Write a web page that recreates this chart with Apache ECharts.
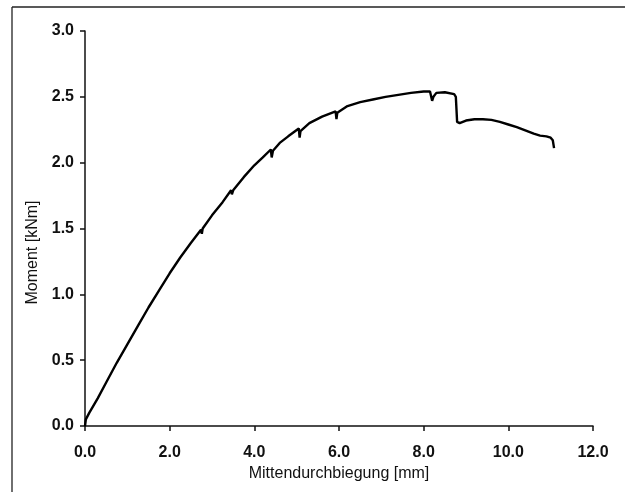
<!DOCTYPE html>
<html>
<head>
<meta charset="utf-8">
<title>Moment – Mittendurchbiegung</title>
<script src="https://cdn.jsdelivr.net/npm/echarts@6/dist/echarts.min.js"></script>
<style>
  html, body { margin: 0; padding: 0; background: #fff; }
  #chart { width: 625px; height: 492px; }
</style>
</head>
<body>
<div id="chart"></div>
<script>
// Mid-span deflection [mm] and bending moment [kNm] of the load test
const deflection = [
  0, 0.02, 0.1, 0.3, 0.5, 0.75, 1.0, 1.25, 1.5, 1.75, 2.0, 2.25, 2.5, 2.74, 2.76, 2.78,
  3.0, 3.25, 3.45, 3.47, 3.5, 3.75, 4.0, 4.2, 4.39, 4.41, 4.44, 4.6, 4.8,
  5.05, 5.07, 5.09, 5.3, 5.6, 5.92, 5.94, 5.96, 6.2, 6.5, 6.8, 7.1, 7.4,
  7.7, 8.0, 8.15, 8.2, 8.23, 8.3, 8.5, 8.72, 8.76, 8.79, 8.85, 9.0, 9.2, 9.4,
  9.6, 9.8, 10.0, 10.2, 10.4, 10.6, 10.75, 10.9, 11.0, 11.05, 11.08
];
const moment = [
  0, 0.05, 0.10, 0.21, 0.33, 0.48, 0.62, 0.76, 0.90, 1.03, 1.16, 1.28, 1.39, 1.49, 1.46, 1.50,
  1.60, 1.70, 1.79, 1.76, 1.79, 1.89, 1.98, 2.04, 2.10, 2.04, 2.09, 2.15, 2.20,
  2.26, 2.19, 2.24, 2.30, 2.35, 2.39, 2.33, 2.38, 2.43, 2.46, 2.48, 2.50, 2.515,
  2.53, 2.54, 2.54, 2.47, 2.50, 2.53, 2.535, 2.52, 2.50, 2.31, 2.30, 2.32, 2.33, 2.33,
  2.325, 2.31, 2.29, 2.27, 2.245, 2.22, 2.205, 2.20, 2.19, 2.17, 2.11
];

const xTicks = { min: 0, max: 12, interval: 2 };
const yTicks = { min: 0, max: 3, interval: 0.5 };
const xName = 'Mittendurchbiegung [mm]';
const yName = 'Moment [kNm]';

const points = deflection.map((d, i) => [d, moment[i]]);

const font = '"Liberation Sans", Arial, sans-serif';
const ink = '#111';

const chart = echarts.init(document.getElementById('chart'), null, { renderer: 'canvas' });
chart.setOption({
  animation: false,
  backgroundColor: '#fff',
  grid: { left: 85, right: 32, top: 31, bottom: 66, containLabel: false },
  graphic: [
    { type: 'line', shape: { x1: 12, y1: 7, x2: 12, y2: 492 }, style: { stroke: '#222', lineWidth: 1.3 } },
    { type: 'line', shape: { x1: 12, y1: 7, x2: 625, y2: 7 }, style: { stroke: '#222', lineWidth: 1.3 } }
  ],
  xAxis: {
    type: 'value',
    min: xTicks.min, max: xTicks.max, interval: xTicks.interval,
    name: xName,
    nameLocation: 'middle',
    nameGap: 38,
    nameTextStyle: { fontFamily: font, fontSize: 16, color: ink },
    axisLine: { show: true, onZero: false, lineStyle: { color: ink, width: 1.5 } },
    axisTick: { show: true, length: 5, inside: false, lineStyle: { color: ink, width: 1.5 } },
    axisLabel: { margin: 19, fontFamily: font, fontSize: 16, fontWeight: 'bold', color: ink, formatter: v => v.toFixed(1) },
    splitLine: { show: false }
  },
  yAxis: {
    type: 'value',
    min: yTicks.min, max: yTicks.max, interval: yTicks.interval,
    name: yName,
    nameLocation: 'middle',
    nameGap: 44,
    nameTextStyle: { fontFamily: font, fontSize: 16, color: ink, padding: [0, 48, 0, 0] },
    axisLine: { show: true, onZero: false, lineStyle: { color: ink, width: 1.5 } },
    axisTick: { show: true, length: 5, inside: false, lineStyle: { color: ink, width: 1.5 } },
    axisLabel: { margin: 11, fontFamily: font, fontSize: 16, fontWeight: 'bold', color: ink, formatter: v => v.toFixed(1) },
    splitLine: { show: false }
  },
  series: [{
    type: 'line',
    data: points,
    showSymbol: false,
    smooth: false,
    lineStyle: { color: '#000', width: 2.4 },
    z: 3
  }]
});
</script>
</body>
</html>
